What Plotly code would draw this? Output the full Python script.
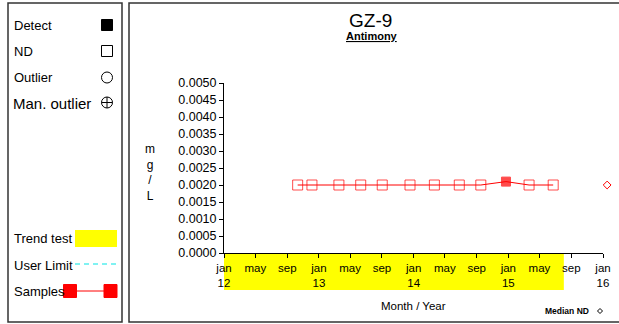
import plotly.graph_objects as go

# sample data (mg/L)
sample_dates = ["2012-10-11", "2012-12-05", "2013-03-19", "2013-06-11", "2013-09-02",
                "2013-12-18", "2014-03-22", "2014-06-26", "2014-09-17", "2014-12-23",
                "2015-03-22", "2015-06-23"]
sample_values = [0.002, 0.002, 0.002, 0.002, 0.002, 0.002,
                 0.002, 0.002, 0.002, 0.0021, 0.002, 0.002]
detected = [False, False, False, False, False, False,
            False, False, False, True, False, False]

median_nd_date = ["2016-01-17"]
median_nd_value = [0.002]

trend_start = "2012-01-01"
trend_end = "2015-08-03"

tick_dates = ["2012-01-01", "2012-05-01", "2012-09-01", "2013-01-01", "2013-05-01",
              "2013-09-01", "2014-01-01", "2014-05-01", "2014-09-01", "2015-01-01",
              "2015-05-01", "2015-09-01", "2016-01-01"]
tick_text = ["jan<br>12", "may", "sep", "jan<br>13", "may", "sep", "jan<br>14",
             "may", "sep", "jan<br>15", "may", "sep", "jan<br>16"]

W, H = 619, 324
FONT = "Liberation Sans, Arial, sans-serif"
RED = "#ff0000"


def px(x):
    return x / W


def py(y):
    return 1 - y / H


fig = go.Figure()

# samples line with ND / detect markers
fig.add_trace(go.Scatter(
    x=sample_dates, y=sample_values, mode="lines+markers",
    line=dict(color=RED, width=1),
    marker=dict(symbol=["square" if d else "square-open" for d in detected],
                size=[9 if d else 10 for d in detected], color=RED,
                line=dict(color=RED, width=1)),
    showlegend=False, hoverinfo="x+y"))

# median ND sits past the last tick, so it gets a hidden axis with the same scale but a longer span
fig.add_trace(go.Scatter(
    x=median_nd_date, y=median_nd_value, mode="markers", xaxis="x2", yaxis="y",
    marker=dict(symbol="diamond-open", size=6, color=RED, line=dict(color=RED, width=1)),
    showlegend=False))

shapes = []
# trend test band under the x axis
shapes.append(dict(type="rect", xref="x", yref="paper", x0=trend_start, x1=trend_end,
                   y0=py(290), y1=py(253), fillcolor="#ffff00", line=dict(width=0),
                   layer="below"))

# frames
shapes.append(dict(type="rect", xref="paper", yref="paper", x0=px(8), x1=px(122),
                   y0=py(322), y1=py(3), line=dict(color="#333", width=1.5)))
shapes.append(dict(type="rect", xref="paper", yref="paper", x0=px(129), x1=px(630),
                   y0=py(322), y1=py(3), line=dict(color="#333", width=1.5)))


def box(cx, cy, s, fill):
    return dict(type="rect", xref="paper", yref="paper",
                x0=px(cx - s / 2), x1=px(cx + s / 2), y0=py(cy + s / 2), y1=py(cy - s / 2),
                fillcolor=fill, line=dict(color="black" if fill != RED else RED, width=1))


def circ(cx, cy, r):
    return dict(type="circle", xref="paper", yref="paper",
                x0=px(cx - r), x1=px(cx + r), y0=py(cy + r), y1=py(cy - r),
                line=dict(color="black", width=1))


def seg(x0, y0, x1, y1, color="black", dash="solid"):
    return dict(type="line", xref="paper", yref="paper", x0=px(x0), x1=px(x1),
                y0=py(y0), y1=py(y1), line=dict(color=color, width=1, dash=dash))


# legend glyphs
shapes.append(box(107, 25, 11, "black"))
shapes.append(box(107, 51, 11, "rgba(0,0,0,0)"))
shapes.append(circ(107, 77.5, 5.5))
shapes.append(circ(107, 102.5, 5.5))
shapes.append(seg(101.5, 102.5, 112.5, 102.5))
shapes.append(seg(107, 97, 107, 108))
shapes.append(dict(type="rect", xref="paper", yref="paper", x0=px(75), x1=px(117),
                   y0=py(247), y1=py(230), fillcolor="#ffff00", line=dict(width=0)))
shapes.append(seg(75, 264, 117, 264, color="#00e5e5", dash="5px,4px"))
shapes.append(seg(70, 291, 110, 291, color=RED))
shapes.append(box(70, 291, 13, RED))
shapes.append(box(110.5, 291, 13, RED))
# small diamond next to "Median ND"
shapes.append(dict(type="path", xref="paper", yref="paper",
                   path="M {} {} L {} {} L {} {} L {} {} Z".format(
                       px(597.5), py(311), px(600), py(308.5), px(602.5), py(311), px(600), py(313.5)),
                   line=dict(color="black", width=1)))

ann = []


def text(x, y, s, size, xanchor="left"):
    ann.append(dict(x=px(x), y=py(y), xref="paper", yref="paper", text=s, showarrow=False,
                    xanchor=xanchor, yanchor="middle", font=dict(family=FONT, size=size, color="black")))


text(12, 25, "Detect", 13)
text(12, 51, "ND", 13)
text(12, 77.5, "Outlier", 13)
text(11, 103, "Man. outlier", 15)
text(12, 239, "Trend test", 13)
text(12, 265, "User Limit", 13)
text(12, 291, "Samples", 13)

text(370, 20, "GZ-9", 19, xanchor="center")
text(372, 36, "<u><b>Antimony</b></u>", 11, xanchor="center")
text(150, 172, "m<br>g<br>/<br>L", 12, xanchor="center")
text(413.5, 306, "Month / Year", 11.5, xanchor="center")
text(567, 311, "<b>Median ND</b>", 8.5, xanchor="center")

fig.update_layout(
    width=W, height=H, margin=dict(l=0, r=0, t=0, b=0, autoexpand=False),
    paper_bgcolor="white", plot_bgcolor="rgba(0,0,0,0)",
    shapes=shapes, annotations=ann,
    xaxis=dict(domain=[px(224), px(603)], range=["2012-01-01", "2016-01-01"],
               tickmode="array", tickvals=tick_dates, ticktext=tick_text, automargin=False,
               showline=True, linecolor="black", linewidth=1, showgrid=False, zeroline=False,
               ticks="outside", ticklen=4, tickcolor="black",
               tickfont=dict(family=FONT, size=11.5, color="black")),
    # same days-per-pixel as xaxis, stretched to 612 px
    xaxis2=dict(domain=[px(224), px(612)], range=["2012-01-01", "2016-02-04 16:34"],
                anchor="y", visible=False, automargin=False),
    yaxis=dict(domain=[py(253), py(83)], range=[0, 0.005], dtick=0.0005, tickformat=".4f",
               automargin=False,
               showline=True, linecolor="black", linewidth=1, showgrid=False, zeroline=False,
               ticks="outside", ticklen=4, tickcolor="black",
               tickfont=dict(family=FONT, size=12.5, color="black")),
)

# drop the default 8px page margin so the figure sits at the window's corner
fig.write_html("out.html", config={"displayModeBar": False},
               post_script="document.body.style.margin='0';")
